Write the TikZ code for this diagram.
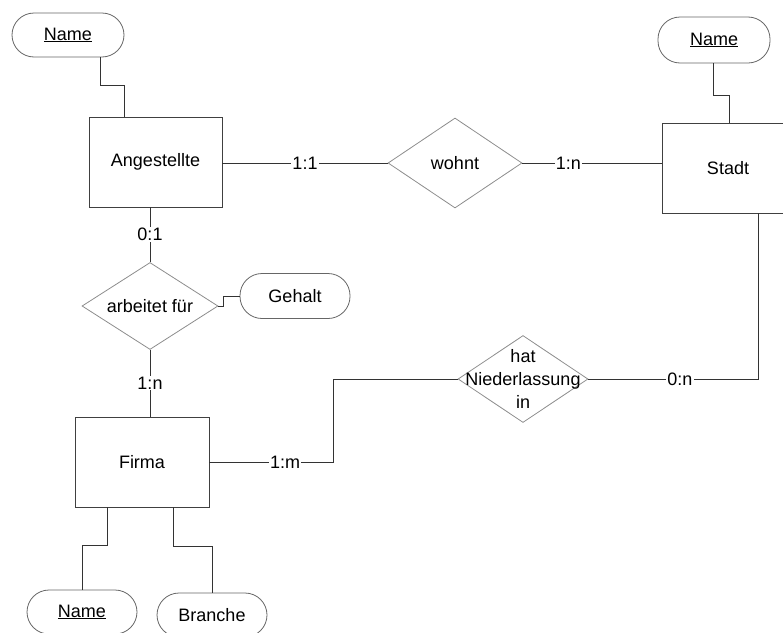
\documentclass[tikz,border=0pt]{standalone}
\usepackage{fontspec}
\setmainfont{Liberation Sans}
\usetikzlibrary{shapes.geometric}
\tikzset{
  every node/.style={font=\fontsize{18}{21}\selectfont},
  entity/.style={draw=black!75, line width=0.8pt, rectangle, minimum width=133pt, minimum height=90pt, inner sep=0pt},
  rel/.style={draw=black!45, line width=0.8pt, diamond, inner sep=0pt},
  attr/.style={draw=black!60, line width=0.8pt, rectangle, rounded corners=22pt, minimum width=111pt, minimum height=45pt, inner sep=0pt},
  conn/.style={draw=black!80, line width=0.8pt},
  card/.style={fill=white, inner sep=1pt},
  reltext/.style={align=center, font=\fontsize{18}{23}\selectfont}
}
\begin{document}
\begin{tikzpicture}[x=1pt, y=-1pt]
\path[use as bounding box, clip] (0,0) rectangle (783,632);

% entities
\node[entity] (ang) at (155.5,162) {Angestellte};
\node[entity, minimum width=132pt] (stadt) at (728,168) {Stadt};
\node[entity, minimum width=134pt] (firma) at (142,462) {Firma};

% relationships
\node[rel, minimum width=134pt, minimum height=90pt] (wohnt) at (455,163) {};
\node (wohntt) at (wohnt) {wohnt};
\node[rel, minimum width=136pt, minimum height=87pt] (arb) at (150,306) {};
\node (arbt) at (arb) {arbeitet für};
\node[rel, minimum width=130pt, minimum height=87pt] (hni) at (523,379) {};
\node[reltext] (hnit) at (hni) {hat\\Niederlassung\\in};

% attributes
\node[attr, minimum width=112pt, minimum height=44pt] (angN) at (68,35) {\underline{Name}};
\node[attr, minimum width=112pt, minimum height=46pt] (stadtN) at (714,40) {\underline{Name}};
\node[attr, minimum width=110pt] (gehalt) at (295,296) {Gehalt};
\node[attr, minimum width=110pt, minimum height=44pt] (firmaN) at (82,612) {\underline{Name}};
\node[attr, minimum width=110pt, minimum height=44pt] (branche) at (212,615) {Branche};

% attribute connectors
\draw[conn] ([xshift=32pt]angN.south) -- ++(0,28) -| ([xshift=-31.5pt]ang.north);
\draw[conn] ([xshift=-1pt]stadtN.south) -- ++(0,32) -| ([xshift=1pt]stadt.north);
\draw[conn] (arb.east) -- ++(5,0) |- (gehalt.west);
\draw[conn] ([xshift=-35pt]firma.south) -- ++(0,38) -| (firmaN.north);
\draw[conn] ([xshift=31pt]firma.south) -- ++(0,39) -| (branche.north);

% relationship connectors
\draw[conn] (ang.east |- wohnt.west) -- node[card] {1:1} (wohnt.west);
\draw[conn] (wohnt.east) -- node[card, pos=0.33] {1:n} (wohnt.east -| stadt.west);
\draw[conn] (ang.south -| arb.north) -- node[card] {0:1} (arb.north);
\draw[conn] (arb.south) -- node[card] {1:n} (arb.south |- firma.north);
\draw[conn] (firma.east) -- node[card, pos=0.61] {1:m} ++(124,0) |- (hni.west);
\draw[conn] (hni.east) -| node[card, pos=0.27] {0:n} ([xshift=30pt]stadt.south);
\end{tikzpicture}
\end{document}
